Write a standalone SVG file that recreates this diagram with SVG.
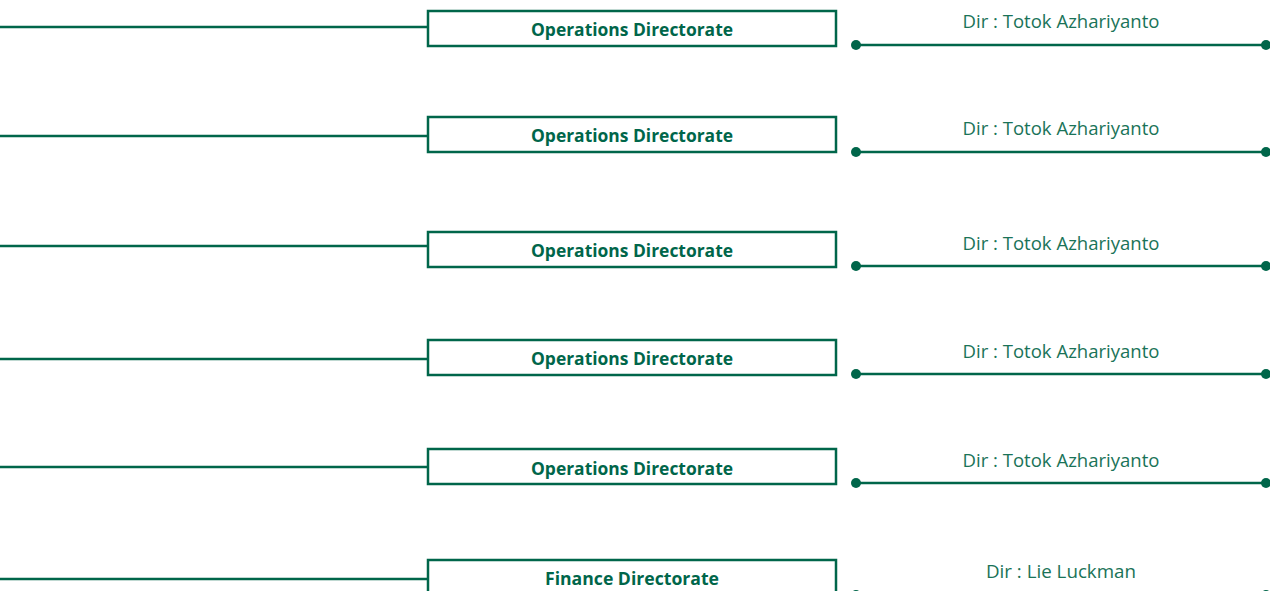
<svg xmlns="http://www.w3.org/2000/svg" width="1270" height="591" viewBox="0 0 1270 591">
<style>
.ln{stroke:#00664a;stroke-width:2.5;fill:none}
.bx{fill:#fff;stroke:#00664a;stroke-width:2.5}
.bt{font-family:"Open Sans","Liberation Sans",sans-serif;font-weight:700;font-size:17px;fill:#00664a;text-anchor:middle}
.dt{font-family:"Open Sans","Liberation Sans",sans-serif;font-size:18px;fill:#1a7358;text-anchor:middle}
.dot{fill:#00664a}
</style>
<rect width="1270" height="591" fill="#fff"/>
<g id="connectors">
<line class="ln" x1="0" y1="27" x2="428" y2="27"/>
<line class="ln" x1="856" y1="45" x2="1266" y2="45"/>
<circle class="dot" cx="856" cy="45" r="5"/><circle class="dot" cx="1266" cy="45" r="5"/>
<line class="ln" x1="0" y1="136" x2="428" y2="136"/>
<line class="ln" x1="856" y1="152" x2="1266" y2="152"/>
<circle class="dot" cx="856" cy="152" r="5"/><circle class="dot" cx="1266" cy="152" r="5"/>
<line class="ln" x1="0" y1="246" x2="428" y2="246"/>
<line class="ln" x1="856" y1="266" x2="1266" y2="266"/>
<circle class="dot" cx="856" cy="266" r="5"/><circle class="dot" cx="1266" cy="266" r="5"/>
<line class="ln" x1="0" y1="359" x2="428" y2="359"/>
<line class="ln" x1="856" y1="374" x2="1266" y2="374"/>
<circle class="dot" cx="856" cy="374" r="5"/><circle class="dot" cx="1266" cy="374" r="5"/>
<line class="ln" x1="0" y1="467" x2="428" y2="467"/>
<line class="ln" x1="856" y1="483" x2="1266" y2="483"/>
<circle class="dot" cx="856" cy="483" r="5"/><circle class="dot" cx="1266" cy="483" r="5"/>
<line class="ln" x1="0" y1="579" x2="428" y2="579"/>
<line class="ln" x1="856" y1="595" x2="1266" y2="595"/>
<circle class="dot" cx="856" cy="595" r="5"/><circle class="dot" cx="1266" cy="595" r="5"/>
</g>
<g id="node1"><rect class="bx" x="428" y="11" width="408" height="35"/><text class="bt" x="632" y="36" textLength="202" lengthAdjust="spacingAndGlyphs">Operations Directorate</text></g>
<g id="dir1"><text class="dt" x="1061" y="28" textLength="197" lengthAdjust="spacingAndGlyphs">Dir : Totok Azhariyanto</text></g>
<g id="node2"><rect class="bx" x="428" y="117" width="408" height="35"/><text class="bt" x="632" y="142" textLength="202" lengthAdjust="spacingAndGlyphs">Operations Directorate</text></g>
<g id="dir2"><text class="dt" x="1061" y="135" textLength="197" lengthAdjust="spacingAndGlyphs">Dir : Totok Azhariyanto</text></g>
<g id="node3"><rect class="bx" x="428" y="232" width="408" height="35"/><text class="bt" x="632" y="257" textLength="202" lengthAdjust="spacingAndGlyphs">Operations Directorate</text></g>
<g id="dir3"><text class="dt" x="1061" y="250" textLength="197" lengthAdjust="spacingAndGlyphs">Dir : Totok Azhariyanto</text></g>
<g id="node4"><rect class="bx" x="428" y="340" width="408" height="35"/><text class="bt" x="632" y="365" textLength="202" lengthAdjust="spacingAndGlyphs">Operations Directorate</text></g>
<g id="dir4"><text class="dt" x="1061" y="358" textLength="197" lengthAdjust="spacingAndGlyphs">Dir : Totok Azhariyanto</text></g>
<g id="node5"><rect class="bx" x="428" y="449" width="408" height="35"/><text class="bt" x="632" y="475" textLength="202" lengthAdjust="spacingAndGlyphs">Operations Directorate</text></g>
<g id="dir5"><text class="dt" x="1061" y="467" textLength="197" lengthAdjust="spacingAndGlyphs">Dir : Totok Azhariyanto</text></g>
<g id="node6"><rect class="bx" x="428" y="560" width="408" height="40"/><text class="bt" x="632" y="585" textLength="174" lengthAdjust="spacingAndGlyphs">Finance Directorate</text></g>
<g id="dir6"><text class="dt" x="1061" y="578" textLength="150" lengthAdjust="spacingAndGlyphs">Dir : Lie Luckman</text></g>
</svg>
